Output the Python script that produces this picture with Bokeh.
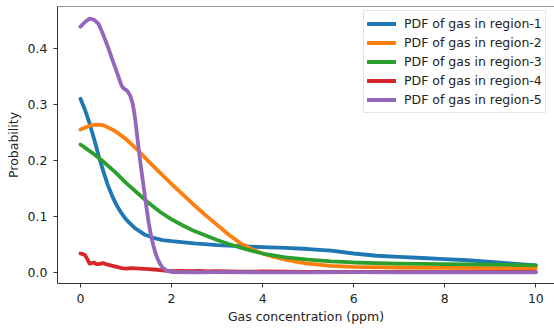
from bokeh.plotting import figure
from bokeh.models import Range1d, FixedTicker, NumeralTickFormatter, Legend, LegendItem, Span
from bokeh.embed import file_html
from bokeh.resources import INLINE

# ---- data ----
x1 = [0, 0.1, 0.2, 0.3, 0.4, 0.5, 0.6, 0.7, 0.8, 0.9, 1.0, 1.2, 1.4, 1.6, 1.8, 2.0,
      2.5, 3.0, 3.5, 4.0, 4.5, 5.0, 5.5, 6.0, 6.5, 7.0, 7.5, 8.0, 8.5, 9.0, 9.5, 10.0]
y1 = [0.310, 0.290, 0.266, 0.238, 0.208, 0.181, 0.156, 0.136, 0.119, 0.106, 0.095,
      0.079, 0.068, 0.062, 0.058, 0.056, 0.052, 0.049, 0.047, 0.0455, 0.044, 0.042,
      0.039, 0.034, 0.030, 0.028, 0.026, 0.024, 0.022, 0.019, 0.016, 0.013]

x2 = [0, 0.2, 0.35, 0.5, 0.75, 1.0, 1.25, 1.5, 1.75, 2.0, 2.25, 2.5, 2.75, 3.0, 3.25,
      3.5, 3.75, 4.0, 4.25, 4.5, 4.75, 5.0, 5.5, 6.0, 7.0, 8.0, 9.0, 10.0]
y2 = [0.255, 0.262, 0.264, 0.263, 0.253, 0.238, 0.219, 0.198, 0.178, 0.158, 0.139,
      0.120, 0.102, 0.085, 0.068, 0.053, 0.042, 0.034, 0.028, 0.023, 0.019, 0.016,
      0.012, 0.010, 0.009, 0.0085, 0.008, 0.008]

x3 = [0, 0.25, 0.5, 0.75, 1.0, 1.25, 1.5, 1.75, 2.0, 2.25, 2.5, 2.75, 3.0, 3.25, 3.5,
      3.75, 4.0, 4.5, 5.0, 5.5, 6.0, 6.5, 7.0, 8.0, 9.0, 10.0]
y3 = [0.2285, 0.214, 0.198, 0.180, 0.160, 0.142, 0.124, 0.108, 0.095, 0.084, 0.074,
      0.066, 0.058, 0.051, 0.045, 0.039, 0.034, 0.027, 0.023, 0.020, 0.018, 0.017,
      0.016, 0.015, 0.014, 0.013]

x4 = [0, 0.05, 0.1, 0.15, 0.2, 0.25, 0.3, 0.35, 0.4, 0.45, 0.5, 0.55, 0.6, 0.7, 0.8,
      0.9, 1.0, 1.1, 1.2, 1.3, 1.4, 1.5, 1.6, 1.7, 1.8, 1.9, 2.0, 2.2, 2.4, 2.6, 2.8,
      3.0, 3.5, 4.0, 5.0, 6.0, 7.0, 8.0, 9.0, 10.0]
y4 = [0.034, 0.033, 0.031, 0.024, 0.016, 0.017, 0.018, 0.015, 0.015, 0.016, 0.017,
      0.015, 0.014, 0.012, 0.010, 0.008, 0.007, 0.008, 0.0075, 0.007, 0.0065, 0.006,
      0.0055, 0.005, 0.004, 0.003, 0.0025, 0.003, 0.0025, 0.003, 0.002, 0.0025,
      0.0015, 0.002, 0.001, 0.001, 0.001, 0.001, 0.001, 0.001]

x5 = [0, 0.1, 0.2, 0.3, 0.4, 0.5, 0.6, 0.7, 0.8, 0.9, 0.95, 1.0, 1.05, 1.1, 1.15, 1.2,
      1.25, 1.3, 1.35, 1.4, 1.45, 1.5, 1.55, 1.6, 1.65, 1.7, 1.75, 1.8, 1.9, 2.0, 2.5,
      3.0, 4.0, 5.0, 6.0, 7.0, 8.0, 9.0, 10.0]
y5 = [0.4386, 0.447, 0.453, 0.451, 0.443, 0.424, 0.403, 0.380, 0.357, 0.334, 0.328,
      0.326, 0.322, 0.314, 0.300, 0.275, 0.240, 0.205, 0.175, 0.145, 0.115, 0.088,
      0.066, 0.048, 0.034, 0.023, 0.015, 0.009, 0.003, 0.001, 0.0005, 0.0008, 0.0005,
      0.0003, 0.0008, 0.0005, 0.0006, 0.0005, 0.0005]

labels = ["PDF of gas in region-1", "PDF of gas in region-2", "PDF of gas in region-3",
          "PDF of gas in region-4", "PDF of gas in region-5"]
colors = ["#1f77b4", "#ff7f0e", "#2ca02c", "#d62728", "#9467bd"]
x_ticks = [0, 2, 4, 6, 8, 10]
y_ticks = [0.0, 0.1, 0.2, 0.3, 0.4]

FONT = "DejaVu Sans"
FS = "12.5px"
Y_TOP = 0.4746

p = figure(width=554, height=330, output_backend="svg", toolbar_location=None,
           x_range=Range1d(-0.505, 10.41), y_range=Range1d(-0.0195, Y_TOP),
           min_border_left=57, min_border_right=0, min_border_top=6,
           min_border_bottom=47)
p.xgrid.visible = False
p.ygrid.visible = False
p.outline_line_color = None

# top spine of the frame
p.add_layout(Span(location=Y_TOP, dimension="width", line_color="#333333", line_width=1))

renderers = []
for xs, ys, c in zip([x1, x2, x3, x4, x5], [y1, y2, y3, y4, y5], colors):
    r = p.line(xs, ys, line_color=c, line_width=3.8, line_join="round", line_cap="round")
    renderers.append(r)

for ax in (p.xaxis[0], p.yaxis[0]):
    ax.axis_line_color = "#333333"
    ax.major_tick_line_color = "#333333"
    ax.major_tick_out = 4
    ax.major_tick_in = 0
    ax.minor_tick_line_color = None
    ax.major_label_text_font = FONT
    ax.major_label_text_font_size = FS
    ax.major_label_text_color = "#222222"
    ax.axis_label_text_font = FONT
    ax.axis_label_text_font_size = FS
    ax.axis_label_text_font_style = "normal"
    ax.axis_label_text_color = "#222222"

p.xaxis.ticker = FixedTicker(ticks=x_ticks)
p.yaxis.ticker = FixedTicker(ticks=y_ticks)
p.yaxis.formatter = NumeralTickFormatter(format="0.0")
p.xaxis.axis_label = "Gas concentration (ppm)"
p.yaxis.axis_label = "Probability"
p.xaxis.major_label_standoff = 6
p.yaxis.major_label_standoff = 6
p.xaxis.axis_label_standoff = 3
p.yaxis.axis_label_standoff = 4

legend = Legend(items=[LegendItem(label=l, renderers=[r]) for l, r in zip(labels, renderers)],
                location=(306, 170), orientation="vertical",
                label_text_font=FONT, label_text_font_size=FS,
                label_text_color="#222222",
                label_height=19, glyph_height=19, glyph_width=29,
                label_standoff=8, spacing=0, padding=3, margin=0,
                border_line_color="#cccccc", border_line_width=1,
                background_fill_alpha=0.8)
p.add_layout(legend)

open("out.html", "w").write(file_html(p, INLINE))
